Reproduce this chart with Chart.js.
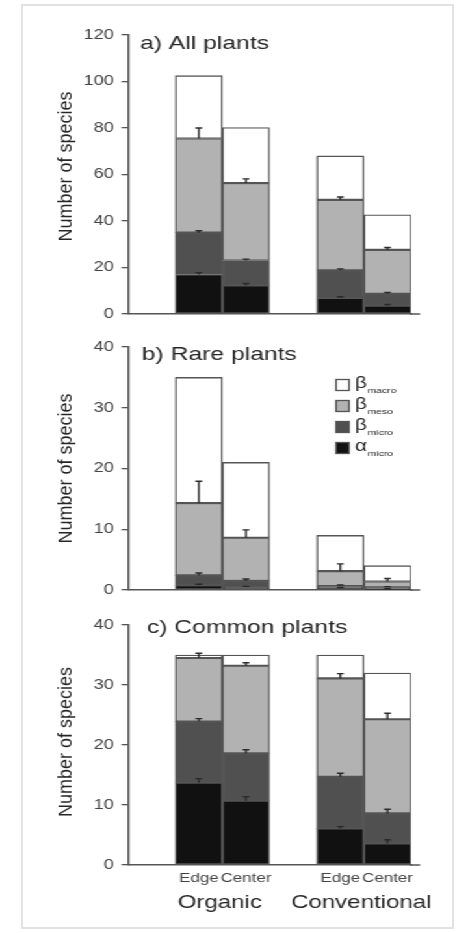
<!DOCTYPE html>
<html>
<head>
<meta charset="utf-8">
<script src="https://cdn.jsdelivr.net/npm/chart.js@4.4.1/dist/chart.umd.min.js"></script>
<style>
  html, body { margin: 0; padding: 0; background: #fff; }
  body { width: 456px; height: 933px; position: relative; overflow: hidden; }
  #frame { position: absolute; left: 21px; top: 4px; width: 429px; height: 921px; border: 2px solid #e2e2e2; }
  /* the figure is set in a horizontally widened type, so the drawing surface is stretched */
  #wrap { position: absolute; left: 0; top: 0; width: 351px; height: 933px; transform: scaleX(1.3); transform-origin: 0 0; }
  canvas { position: absolute; left: 0; }
</style>
</head>
<body>
<div id="frame"></div>
<div id="wrap">
  <canvas id="panelA" width="351" height="330" style="top:0px"></canvas>
  <canvas id="panelB" width="351" height="275" style="top:330px"></canvas>
  <canvas id="panelC" width="351" height="328" style="top:605px"></canvas>
</div>
<script>
// ---- categories ----
const fields = ['Edge', 'Center', 'Edge', 'Center'];
const systems = ['Organic', 'Conventional'];

// ---- diversity components (bottom to top of each stack) ----
const seriesSymbols = ['\u03B1', '\u03B2', '\u03B2', '\u03B2'];
const seriesSubs = ['micro', 'micro', 'meso', 'macro'];
const seriesColors = ['#111111', '#505050', '#b2b2b2', '#ffffff'];

// ---- a) All plants ----
const allAlpha     = [17, 12.3, 6.9, 3.6];
const allBetaMicro = [18, 10.7, 11.9, 5.1];
const allBetaMeso  = [40.5, 33.3, 30.3, 18.9];
const allBetaMacro = [27, 23.9, 18.9, 15.1];
const allErrAlpha  = [0.8, 0.8, 0.5, 0.5];
const allErrMicro  = [0.8, 0.6, 0.6, 0.6];
const allErrMeso   = [4.5, 1.8, 1.2, 1.0];

// ---- b) Rare plants ----
const rareAlpha     = [0.8, 0.5, 0.3, 0.15];
const rareBetaMicro = [1.6, 1.0, 0.35, 0.3];
const rareBetaMeso  = [11.9, 7.1, 2.45, 0.95];
const rareBetaMacro = [20.7, 12.4, 5.9, 2.6];
const rareErrAlpha  = [0.15, 0.1, 0.1, 0.05];
const rareErrMicro  = [0.4, 0.3, 0.2, 0.1];
const rareErrMeso   = [3.6, 1.3, 1.2, 0.5];

// ---- c) Common plants ----
const comAlpha     = [13.7, 10.7, 6.1, 3.6];
const comBetaMicro = [10.2, 7.9, 8.6, 5.0];
const comBetaMeso  = [10.6, 14.6, 16.4, 15.7];
const comBetaMacro = [0.5, 1.8, 3.9, 7.7];
const comErrAlpha  = [0.7, 0.7, 0.3, 0.6];
const comErrMicro  = [0.5, 0.6, 0.6, 0.7];
const comErrMeso   = [0.8, 0.5, 0.8, 1.0];

const STRETCH = 1.3;
const FONT = '"Liberation Sans", Arial, Helvetica, sans-serif';
const INK = '#262626';
const AXIS = '#555';

Chart.defaults.font.family = FONT;

// an empty slot before each farming system separates the groups
function spread(values) {
  return [null, values[0], values[1], null, values[2], values[3]];
}
const slotLabels = ['', fields[0], fields[1], '', fields[2], fields[3]];

const panelDecor = {
  id: 'panelDecor',
  afterDatasetsDraw(chart, args, o) {
    const { ctx, chartArea, scales: { x, y } } = chart;
    const sets = chart.data.datasets;

    // error bars rising from the top of each component
    ctx.save();
    ctx.strokeStyle = '#2a2a2a';
    ctx.lineWidth = 1.4;
    sets.forEach((ds, di) => {
      if (!ds.errors) return;
      const meta = chart.getDatasetMeta(di);
      meta.data.forEach((bar, idx) => {
        const e = ds.errors[idx];
        if (e == null || ds.data[idx] == null) return;
        let cum = 0;
        for (let k = 0; k <= di; k++) cum += sets[k].data[idx] || 0;
        const y0 = y.getPixelForValue(cum);
        const y1 = y.getPixelForValue(cum + e);
        ctx.beginPath();
        ctx.moveTo(bar.x, y0);
        ctx.lineTo(bar.x, y1);
        ctx.moveTo(bar.x - 2.6, y1);
        ctx.lineTo(bar.x + 2.6, y1);
        ctx.stroke();
      });
    });
    ctx.restore();

    // x axis line runs a little past the last bar
    ctx.save();
    ctx.strokeStyle = AXIS;
    ctx.lineWidth = 1.5;
    ctx.beginPath();
    ctx.moveTo(chartArea.right - 1, chartArea.bottom);
    ctx.lineTo(chartArea.right + 7, chartArea.bottom);
    ctx.stroke();
    ctx.restore();

    // panel title
    ctx.save();
    ctx.fillStyle = INK;
    ctx.font = '19px ' + FONT;
    ctx.textAlign = 'left';
    ctx.textBaseline = 'middle';
    ctx.fillText(o.title, o.titleX, chartArea.top + o.titleDy);
    ctx.restore();

    // y axis title, kept at its natural width
    ctx.save();
    ctx.fillStyle = INK;
    ctx.font = '18px ' + FONT;
    ctx.translate(66 / STRETCH, (chartArea.top + chartArea.bottom) / 2 + o.yTitleDy);
    ctx.scale(1 / STRETCH, 1);
    ctx.rotate(-Math.PI / 2);
    ctx.textAlign = 'center';
    ctx.textBaseline = 'middle';
    ctx.fillText('Number of species', 0, 0);
    ctx.restore();

    // farming system labels under the paired bars
    if (o.groups) {
      ctx.save();
      ctx.fillStyle = INK;
      ctx.font = '18.5px ' + FONT;
      ctx.textAlign = 'center';
      ctx.textBaseline = 'middle';
      systems.forEach((name, g) => {
        const cx = (x.getPixelForValue(1 + 3 * g) + x.getPixelForValue(2 + 3 * g)) / 2 - 2;
        ctx.fillText(name, cx, o.groupY);
      });
      ctx.restore();
    }

    // legend: top row is the uppermost component
    if (o.legend) {
      ctx.save();
      const order = [3, 2, 1, 0];
      order.forEach((si, r) => {
        const yc = chartArea.top + 38 + r * 21;
        const sx = 258.5;
        ctx.fillStyle = seriesColors[si];
        ctx.fillRect(sx, yc - 5.5, 10, 11);
        ctx.strokeStyle = AXIS;
        ctx.lineWidth = 1.3;
        ctx.strokeRect(sx, yc - 5.5, 10, 11);
        ctx.fillStyle = INK;
        ctx.textAlign = 'left';
        ctx.textBaseline = 'middle';
        ctx.font = '16px ' + FONT;
        const tx = 273;
        ctx.fillText(seriesSymbols[si], tx, yc - 1);
        const w = ctx.measureText(seriesSymbols[si]).width;
        ctx.font = '8px ' + FONT;
        ctx.textBaseline = 'alphabetic';
        ctx.fillText(seriesSubs[si], tx + w + 0.5, yc + 7.5);
      });
      ctx.restore();
    }
  }
};

function makePanel(id, p) {
  const values = [p.alpha, p.micro, p.meso, p.macro];
  const errs = [p.errAlpha, p.errMicro, p.errMeso, null];
  const datasets = values.map((v, i) => ({
    label: seriesSymbols[i] + ' ' + seriesSubs[i],
    data: spread(v),
    errors: errs[i] ? spread(errs[i]) : null,
    backgroundColor: seriesColors[i],
    borderColor: AXIS,
    borderWidth: 1.4,
    borderSkipped: false,
    barPercentage: 1,
    categoryPercentage: 1
  }));
  const canvas = document.getElementById(id);
  return new Chart(canvas, {
    type: 'bar',
    data: { labels: slotLabels, datasets },
    options: {
      responsive: false,
      animation: false,
      devicePixelRatio: 1,
      layout: { padding: { left: 0, right: 351 - 316.2, top: p.padTop, bottom: p.padBottom } },
      plugins: {
        legend: { display: false },
        tooltip: { enabled: false },
        panelDecor: {
          title: p.title, titleX: p.titleX, titleDy: p.titleDy, yTitleDy: p.yTitleDy,
          legend: !!p.legend, groups: !!p.groups, groupY: p.groupY
        }
      },
      scales: {
        x: {
          stacked: true,
          offset: true,
          grid: { display: true, drawOnChartArea: false, drawTicks: false },
          border: { display: true, color: AXIS, width: 1.5 },
          ticks: {
            display: !!p.showFields, autoSkip: false, maxRotation: 0, minRotation: 0,
            font: { size: 13 }, color: '#444', padding: 6
          },
          afterFit(s) { s.height = p.xHeight; }
        },
        y: {
          stacked: true,
          min: 0,
          max: p.yMax,
          ticks: { stepSize: p.yStep, font: { size: 14 }, color: '#444', padding: 6 },
          grid: { display: true, drawOnChartArea: false, drawTicks: true, tickLength: 5, color: AXIS, lineWidth: 1.3 },
          border: { display: true, color: AXIS, width: 1.5 },
          afterFit(s) { s.width = 98.5; }
        }
      }
    },
    plugins: [panelDecor]
  });
}

makePanel('panelA', {
  title: 'a) All plants', titleX: 107.7, titleDy: 9, yTitleDy: -8,
  alpha: allAlpha, micro: allBetaMicro, meso: allBetaMeso, macro: allBetaMacro,
  errAlpha: allErrAlpha, errMicro: allErrMicro, errMeso: allErrMeso,
  yMax: 120, yStep: 20, padTop: 35, padBottom: 10, xHeight: 6
});

makePanel('panelB', {
  title: 'b) Rare plants', titleX: 109, titleDy: 8, yTitleDy: 0, legend: true,
  alpha: rareAlpha, micro: rareBetaMicro, meso: rareBetaMeso, macro: rareBetaMacro,
  errAlpha: rareErrAlpha, errMicro: rareErrMicro, errMeso: rareErrMeso,
  yMax: 40, yStep: 10, padTop: 17, padBottom: 9, xHeight: 6
});

makePanel('panelC', {
  title: 'c) Common plants', titleX: 113, titleDy: 3, yTitleDy: -3,
  alpha: comAlpha, micro: comBetaMicro, meso: comBetaMeso, macro: comBetaMacro,
  errAlpha: comErrAlpha, errMicro: comErrMicro, errMeso: comErrMeso,
  yMax: 40, yStep: 10, padTop: 20, padBottom: 0, xHeight: 68,
  showFields: true, groups: true, groupY: 298
});
</script>
</body>
</html>
